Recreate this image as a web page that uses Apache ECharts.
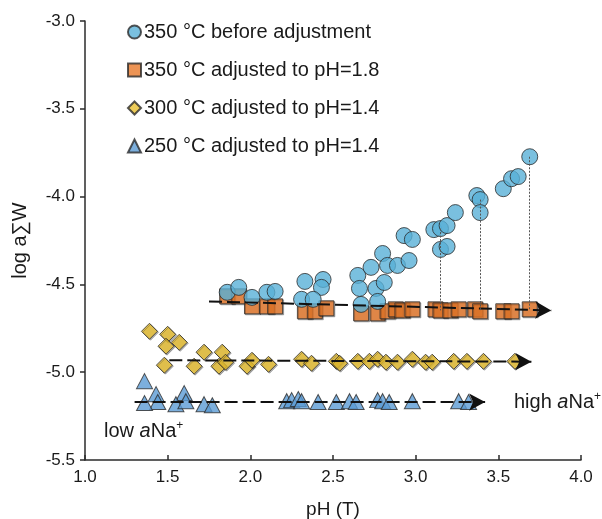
<!DOCTYPE html>
<html>
<head>
<meta charset="utf-8">
<script src="https://cdn.jsdelivr.net/npm/echarts@6/dist/echarts.min.js"></script>
<style>
  html, body { margin: 0; padding: 0; background: #fff; }
  #chart { width: 602px; height: 519px; }
</style>
</head>
<body>
<div id="chart"></div>
<script>
// 350 °C, before pH adjustment
const before350PH = [1.86, 1.93, 2.01, 2.10, 2.15, 2.33, 2.44, 2.43, 2.31, 2.38,
  2.65, 2.73, 2.80, 2.83, 2.89, 2.96, 2.93, 2.98, 2.66, 2.76, 2.81, 2.67, 2.77,
  3.11, 3.15, 3.19, 3.24, 3.15, 3.19, 3.37, 3.39, 3.39, 3.53, 3.58, 3.62, 3.69];
const before350LogW = [-4.545, -4.517, -4.574, -4.545, -4.540, -4.483, -4.472, -4.517, -4.585, -4.585,
  -4.449, -4.403, -4.324, -4.392, -4.392, -4.364, -4.222, -4.244, -4.523, -4.523, -4.489, -4.614, -4.597,
  -4.188, -4.182, -4.165, -4.091, -4.301, -4.284, -3.994, -4.017, -4.091, -3.955, -3.898, -3.886, -3.773];

// 350 °C, adjusted to pH = 1.8
const adj350PH = [1.86, 1.93, 2.01, 2.10, 2.15, 2.33, 2.39, 2.46, 2.67, 2.77, 2.83, 2.88,
  2.92, 2.98, 3.12, 3.15, 3.21, 3.26, 3.36, 3.39, 3.53, 3.58, 3.69];
const adj350LogW = [-4.568, -4.568, -4.625, -4.625, -4.625, -4.653, -4.653, -4.636, -4.665, -4.665, -4.653, -4.642,
  -4.648, -4.642, -4.642, -4.648, -4.648, -4.642, -4.642, -4.653, -4.653, -4.653, -4.642];

// 300 °C, adjusted to pH = 1.4
const adj300PH = [1.39, 1.50, 1.57, 1.49, 1.48, 1.66, 1.72, 1.83, 1.81, 1.85, 1.98, 2.01, 2.11,
  2.31, 2.37, 2.52, 2.54, 2.65, 2.72, 2.77, 2.82, 2.89, 2.98, 3.06, 3.10, 3.23, 3.31, 3.41, 3.60];
const adj300LogW = [-4.767, -4.784, -4.830, -4.852, -4.960, -4.966, -4.886, -4.886, -4.966, -4.943, -4.966, -4.932, -4.955,
  -4.926, -4.949, -4.938, -4.949, -4.938, -4.938, -4.926, -4.943, -4.943, -4.926, -4.943, -4.943, -4.938, -4.938, -4.938, -4.938];

// 250 °C, adjusted to pH = 1.4
const adj250PH = [1.36, 1.43, 1.60, 1.44, 1.36, 1.55, 1.61, 1.72, 1.77, 2.22, 2.25, 2.29,
  2.31, 2.41, 2.52, 2.60, 2.64, 2.77, 2.80, 2.84, 2.98, 3.26, 3.32];
const adj250LogW = [-5.051, -5.125, -5.119, -5.170, -5.176, -5.182, -5.165, -5.182, -5.188, -5.165, -5.159, -5.153,
  -5.165, -5.170, -5.170, -5.165, -5.170, -5.159, -5.165, -5.170, -5.165, -5.165, -5.170];

// trend arrows [pH start, logW start, pH end, logW end]
const trend350 = [1.75, -4.597, 3.82, -4.648];
const trend300 = [1.51, -4.932, 3.70, -4.940];
const trend250 = [1.30, -5.170, 3.42, -5.170];

// vertical shifts from measured to adjusted values [pH, logW before, logW after]
const shifts = [[3.15, -4.182, -4.648], [3.39, -4.017, -4.653], [3.69, -3.773, -4.642]];

const seriesNames = ['350 °C before adjustment', '350 °C adjusted to pH=1.8',
  '300 °C adjusted to pH=1.4', '250 °C adjusted to pH=1.4'];
const xTicks = { min: 1.0, max: 4.0, step: 0.5 };
const yTicks = { min: -5.5, max: -3.0, step: 0.5 };

const FONT = '"Liberation Sans", Arial, sans-serif';
const pair = (xs, ys) => xs.map((x, i) => [x, ys[i]]);
const edge = { borderColor: '#2b2b2b', borderWidth: 1 };
const arrowLine = (t) => ({
  silent: true,
  symbol: ['none', 'arrow'],
  symbolSize: [13, 16],
  label: { show: false },
  lineStyle: { color: '#111', width: 2, type: [13, 5] },
  data: [[{ coord: [t[0], t[1]] }, { coord: [t[2], t[3]] }]]
});

const chart = echarts.init(document.getElementById('chart'), null, { renderer: 'canvas' });
chart.setOption({
  animation: false,
  textStyle: { fontFamily: FONT },
  grid: { left: 85, right: 21, top: 21, bottom: 59, containLabel: false, outerBoundsMode: 'none' },
  legend: {
    orient: 'vertical',
    left: 122, top: 15,
    itemWidth: 13, itemHeight: 13, itemGap: 14,
    data: seriesNames,
    textStyle: { fontSize: 20, color: '#1a1a1a', fontFamily: FONT, lineHeight: 24, padding: [0, 0, 0, -2] }
  },
  xAxis: {
    type: 'value', min: xTicks.min, max: xTicks.max, interval: xTicks.step,
    name: 'pH (T)', nameLocation: 'middle', nameGap: 40,
    nameTextStyle: { fontSize: 19, color: '#1a1a1a', fontFamily: FONT },
    axisLine: { lineStyle: { color: '#2b2b2b', width: 1.5 } },
    axisTick: { inside: true, length: 5, lineStyle: { color: '#2b2b2b', width: 1.5 } },
    axisLabel: { fontSize: 17, color: '#1a1a1a', margin: 9, formatter: v => v.toFixed(1) },
    splitLine: { show: false }
  },
  yAxis: {
    type: 'value', min: yTicks.min, max: yTicks.max, interval: yTicks.step,
    name: 'log a∑W', nameLocation: 'middle', nameGap: 55,
    nameTextStyle: { fontSize: 20, color: '#1a1a1a', fontFamily: FONT },
    axisLine: { show: true, lineStyle: { color: '#2b2b2b', width: 1.5 } },
    axisTick: { show: true, inside: false, length: 5, lineStyle: { color: '#2b2b2b', width: 1.5 } },
    axisLabel: { fontSize: 17, color: '#1a1a1a', margin: 10, formatter: v => v.toFixed(1) },
    splitLine: { show: false }
  },
  series: [
    {
      name: seriesNames[1], type: 'scatter', symbol: 'rect', symbolSize: 15, z: 2,
      itemStyle: Object.assign({ color: '#e8792b', shadowColor: 'rgba(0,0,0,0.35)', shadowOffsetX: 1, shadowOffsetY: 1 }, edge),
      data: pair(adj350PH, adj350LogW)
    },
    {
      name: seriesNames[2], type: 'scatter', symbol: 'diamond', symbolSize: 16, z: 2,
      itemStyle: Object.assign({ color: '#e9bf30', shadowColor: 'rgba(0,0,0,0.35)', shadowOffsetX: 1, shadowOffsetY: 1 }, edge),
      data: pair(adj300PH, adj300LogW)
    },
    {
      name: seriesNames[3], type: 'scatter', symbol: 'triangle', symbolSize: [16, 15], z: 2,
      itemStyle: Object.assign({ color: '#5b9bd5' }, edge),
      data: pair(adj250PH, adj250LogW)
    },
    {
      name: 'trends', type: 'scatter', data: [], z: 3,
      markLine: arrowLine(trend350)
    },
    {
      name: 'trends300', type: 'scatter', data: [], z: 3,
      markLine: arrowLine(trend300)
    },
    {
      name: 'trends250', type: 'scatter', data: [], z: 3,
      markLine: arrowLine(trend250)
    },
    {
      name: 'shifts', type: 'scatter', data: [], z: 3,
      markLine: {
        silent: true, symbol: ['none', 'none'], label: { show: false },
        lineStyle: { color: '#555', width: 1, type: [2, 1.5] },
        data: shifts.map(s => [{ coord: [s[0], s[1]] }, { coord: [s[0], s[2]] }])
      }
    },
    {
      name: seriesNames[0], type: 'scatter', symbol: 'circle', symbolSize: 16, z: 4,
      itemStyle: Object.assign({ color: '#59b0d7' }, edge),
      data: pair(before350PH, before350LogW)
    }
  ],
  graphic: [
    {
      type: 'text', left: 104, top: 420,
      style: {
        text: '{n|low }{i|a}{n|Na}{s|+}',
        rich: {
          n: { fontSize: 20, fontFamily: FONT, fill: '#1a1a1a' },
          i: { fontSize: 20, fontFamily: FONT, fontStyle: 'italic', fill: '#1a1a1a' },
          s: { fontSize: 12, fontFamily: FONT, fill: '#1a1a1a', verticalAlign: 'top', padding: [0, 0, 10, 0] }
        }
      }
    },
    {
      type: 'text', left: 514, top: 391,
      style: {
        text: '{n|high }{i|a}{n|Na}{s|+}',
        rich: {
          n: { fontSize: 20, fontFamily: FONT, fill: '#1a1a1a' },
          i: { fontSize: 20, fontFamily: FONT, fontStyle: 'italic', fill: '#1a1a1a' },
          s: { fontSize: 12, fontFamily: FONT, fill: '#1a1a1a', verticalAlign: 'top', padding: [0, 0, 10, 0] }
        }
      }
    }
  ]
});
</script>
</body>
</html>
